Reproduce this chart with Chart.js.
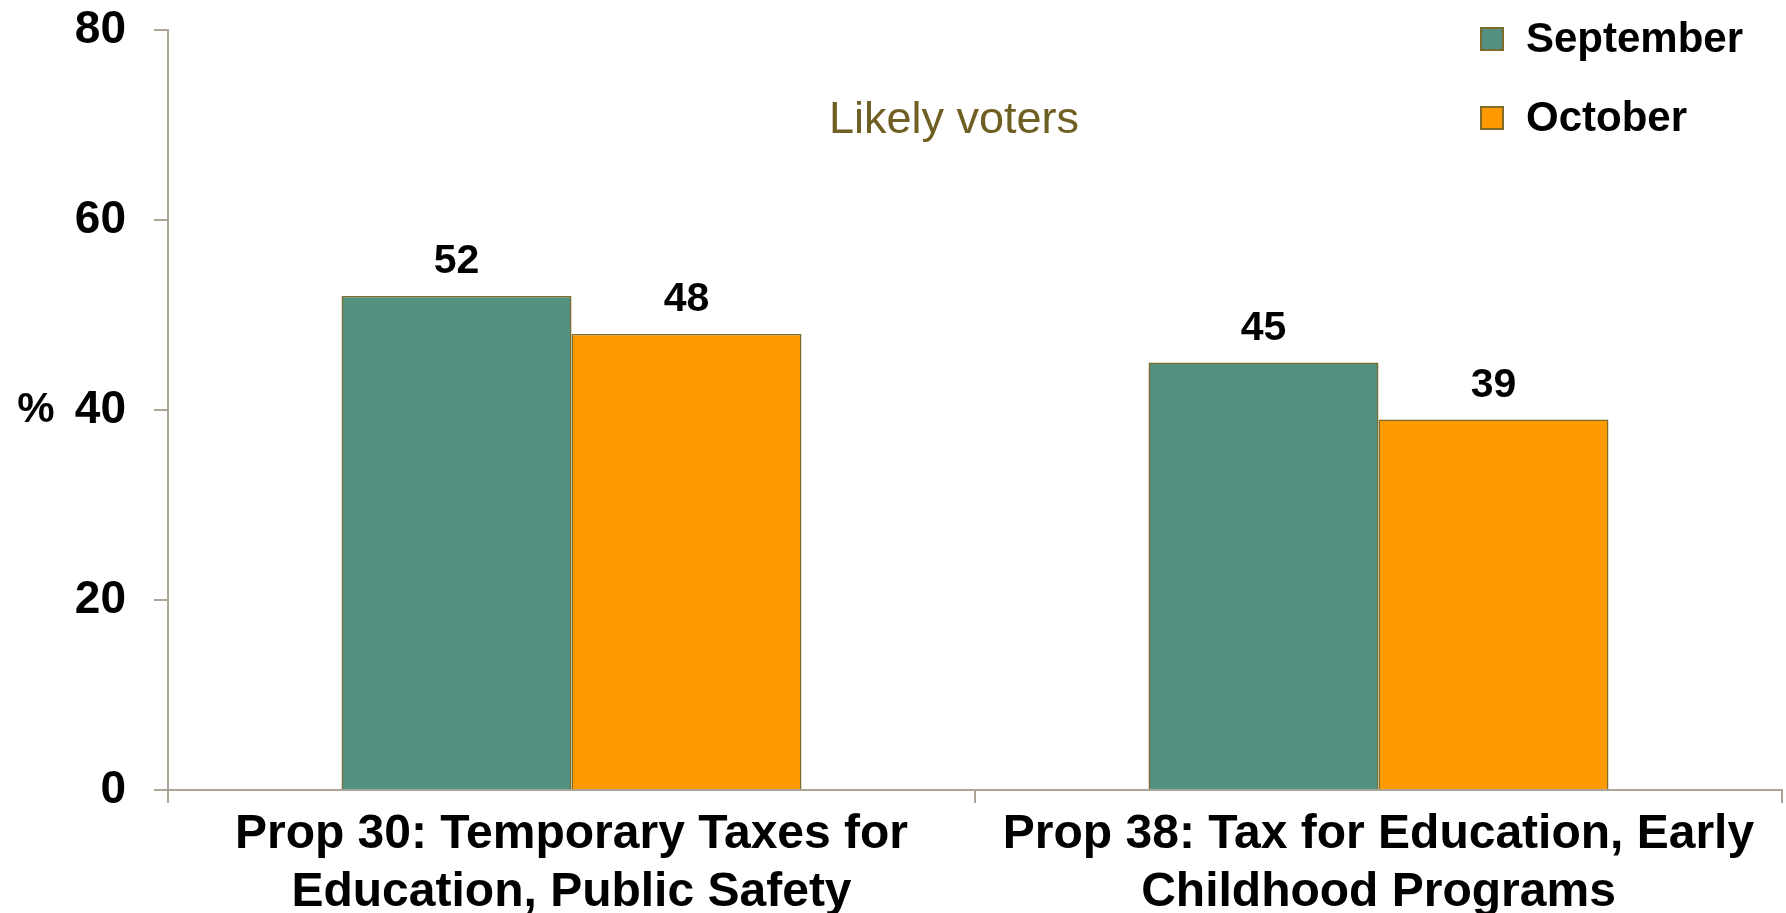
<!DOCTYPE html>
<html>
<head>
<meta charset="utf-8">
<script src="https://cdn.jsdelivr.net/npm/chart.js@4/dist/chart.umd.min.js"></script>
<style>
  html, body { margin: 0; padding: 0; background: #fff; }
  #wrap { width: 1786px; height: 913px; }
</style>
</head>
<body>
<div id="wrap"><canvas id="chart" width="1786" height="913"></canvas></div>
<script>
const categories = [
    ['Prop 30: Temporary Taxes for', 'Education, Public Safety'],
    ['Prop 38: Tax for Education, Early', 'Childhood Programs']
];
const seriesNames = ['September', 'October'];
const septemberValues = [52, 45];
const octoberValues = [48, 39];
const yTicks = [0, 20, 40, 60, 80];

const FONT = '"Liberation Sans", Arial, sans-serif';
const axisColor = '#aca595';
const edgeColor = '#7d6b2c';
const fills = ['#52907f', '#ff9900'];

// value labels above each bar
const barLabels = {
    id: 'barLabels',
    afterDatasetsDraw(chart) {
        const ctx = chart.ctx;
        ctx.save();
        ctx.font = 'bold 41px ' + FONT;
        ctx.fillStyle = '#000';
        ctx.textAlign = 'center';
        ctx.textBaseline = 'middle';
        chart.data.datasets.forEach((ds, i) => {
            chart.getDatasetMeta(i).data.forEach((bar, j) => {
                ctx.fillText(ds.data[j], bar.x, bar.y - 34);
            });
        });
        ctx.restore();
    }
};

// extra text: % label, subtitle, legend
const extras = {
    id: 'extras',
    afterDraw(chart) {
        const ctx = chart.ctx;
        const y = chart.scales.y;
        ctx.save();
        ctx.textBaseline = 'middle';

        ctx.font = 'bold 42px ' + FONT;
        ctx.fillStyle = '#000';
        ctx.textAlign = 'center';
        ctx.fillText('%', 36, y.getPixelForValue(40));

        ctx.font = '45px ' + FONT;
        ctx.fillStyle = '#6f5f23';
        ctx.fillText('Likely voters', 954, 121);

        ctx.textAlign = 'left';
        ctx.font = 'bold 42px ' + FONT;
        seriesNames.forEach((name, i) => {
            const cy = 39 + i * 79;
            ctx.fillStyle = fills[i];
            ctx.fillRect(1481, cy - 11, 22, 22);
            ctx.strokeStyle = edgeColor;
            ctx.lineWidth = 2;
            ctx.strokeRect(1481, cy - 11, 22, 22);
            ctx.fillStyle = '#000';
            ctx.fillText(name, 1526, cy + 1);
        });
        ctx.restore();
    }
};

new Chart(document.getElementById('chart'), {
    type: 'bar',
    data: {
        labels: categories,
        datasets: [
            { label: seriesNames[0], data: septemberValues, backgroundColor: fills[0], borderColor: edgeColor, borderWidth: 1.5 },
            { label: seriesNames[1], data: octoberValues, backgroundColor: fills[1], borderColor: edgeColor, borderWidth: 1.5 }
        ]
    },
    options: {
        responsive: false,
        animation: false,
        layout: { padding: { left: 0, right: 4, top: 30, bottom: 0 } },
        datasets: { bar: { categoryPercentage: 0.57, barPercentage: 1.0 } },
        plugins: { legend: { display: false }, tooltip: { enabled: false } },
        scales: {
            x: {
                afterFit(scale) { scale.height = 123; },
                grid: { offset: true, drawOnChartArea: false, color: axisColor, lineWidth: 2, tickLength: 13 },
                border: { color: axisColor, width: 2 },
                ticks: { color: '#000', font: { family: FONT, size: 48, weight: 'bold', lineHeight: 1.2 }, padding: 3, maxRotation: 0, autoSkip: false }
            },
            y: {
                min: 0,
                max: 80,
                afterBuildTicks(scale) { scale.ticks = yTicks.map(v => ({ value: v })); },
                afterFit(scale) {
                    scale.width = 168;
                    scale.paddingTop = 0;
                    scale.paddingBottom = 0;
                },
                grid: { drawOnChartArea: false, color: axisColor, lineWidth: 2, tickLength: 14 },
                border: { color: axisColor, width: 2 },
                ticks: { color: '#000', font: { family: FONT, size: 46, weight: 'bold' }, padding: 28 }
            }
        }
    },
    plugins: [barLabels, extras]
});
</script>
</body>
</html>
